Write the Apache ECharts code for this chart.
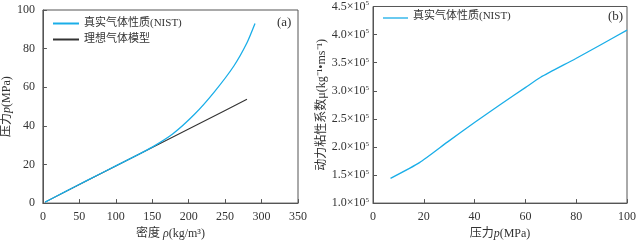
<!DOCTYPE html>
<html><head><meta charset="utf-8">
<script src="https://cdn.jsdelivr.net/npm/echarts@6/dist/echarts.min.js"></script>
<style>html,body{margin:0;padding:0;background:#fff}#c{width:639px;height:245px}</style>
</head><body><div id="c"></div>
<script>
// Panel (a): pressure vs density
const densityNist = [3, 30, 60, 100, 130, 150, 178, 208, 235, 262, 280, 291];
const pressureNist = [0.5, 5.8, 11.6, 19.3, 25.0, 29.0, 35.8, 46.0, 57.5, 71.0, 83.0, 93.0];
const densityIdeal = [3, 50, 100, 150, 200, 250, 280];
const pressureIdeal = [0.5, 9.6, 19.2, 28.8, 38.4, 48.0, 53.8];
// Panel (b): viscosity vs pressure
const pressureB = [6.9, 18.3, 29.4, 40.1, 50.3, 60.1, 66.0, 79.7, 89.7, 100];
const viscosityB = [144000, 172000, 209000, 244000, 276000, 306000, 324000, 357000, 382000, 408000];
const seriesNames = ['真实气体性质(NIST)', '理想气体模型'];

const FONT = '"Liberation Serif", "Noto Sans CJK SC", serif';
const AX = '#555';
const TXT = '#333';
const NIST_COLOR = '#1aaee8';
const IDEAL_COLOR = '#333';

function zip(a, b) { return a.map((v, i) => [v, b[i]]); }

const chart = echarts.init(document.getElementById('c'), null, {renderer: 'canvas'});
const nameStyle = {color: TXT, fontFamily: FONT, fontSize: 12,
  rich: {i: {fontStyle: 'italic', fontFamily: FONT, fontSize: 12, color: TXT}}};
const axisCommon = {
  axisLine: {show: true, lineStyle: {color: AX, width: 1}},
  axisTick: {show: true, inside: true, length: 4, lineStyle: {color: AX}},
  splitLine: {show: false},
  axisLabel: {color: TXT, fontFamily: FONT, fontSize: 12},
  nameTextStyle: nameStyle
};
chart.setOption({
  animation: false,
  textStyle: {fontFamily: FONT},
  grid: [
    {left: 42, top: 10, width: 256, height: 195, show: true, borderColor: AX, borderWidth: 1},
    {left: 373, top: 5, width: 255, height: 201, show: true, borderColor: AX, borderWidth: 1}
  ],
  legend: [
    {data: seriesNames, left: 48, top: 13, orient: 'vertical', itemWidth: 26, itemHeight: 2, itemGap: 5,
     icon: 'rect', textStyle: {fontFamily: FONT, fontSize: 11, color: TXT}},
  ],
  xAxis: [
    Object.assign({}, axisCommon, {gridIndex: 0, type: 'value', min: 0, max: 350, interval: 50,
      name: '密度 {i|ρ}(kg/m³)', nameLocation: 'middle', nameGap: 22}),
    Object.assign({}, axisCommon, {gridIndex: 1, type: 'value', min: 0, max: 100, interval: 20,
      name: '压力{i|p}(MPa)', nameLocation: 'middle', nameGap: 22})
  ],
  yAxis: [
    Object.assign({}, axisCommon, {gridIndex: 0, type: 'value', min: 0, max: 100, interval: 20,
      name: '压力{i|p}(MPa)', nameLocation: 'middle', nameGap: 28}),
    Object.assign({}, axisCommon, {gridIndex: 1, type: 'value', min: 100000, max: 450000, interval: 50000,
      name: '动力粘性系数μ(kg⁻¹•ms⁻¹)', nameLocation: 'middle', nameGap: 45,
      axisLabel: {color: TXT, fontFamily: FONT, fontSize: 12, margin: 4,
        formatter: v => '{a|' + (v / 1e5).toFixed(1) + '×10}{s|5}',
        rich: {a: {fontFamily: FONT, fontSize: 12, color: TXT}, s: {fontFamily: FONT, fontSize: 7, color: TXT, verticalAlign: 'top', padding: [0, 0, 6, 0]}}}})
  ],
  series: [
    {name: seriesNames[0], type: 'line', xAxisIndex: 0, yAxisIndex: 0, data: zip(densityNist, pressureNist),
     showSymbol: false, smooth: 0.2, lineStyle: {color: NIST_COLOR, width: 1.3}, itemStyle: {color: NIST_COLOR}, z: 3},
    {name: seriesNames[1], type: 'line', xAxisIndex: 0, yAxisIndex: 0, data: zip(densityIdeal, pressureIdeal),
     showSymbol: false, lineStyle: {color: IDEAL_COLOR, width: 1.1}, itemStyle: {color: IDEAL_COLOR}, z: 2},
    {name: 'b-nist', type: 'line', xAxisIndex: 1, yAxisIndex: 1, data: zip(pressureB, viscosityB),
     showSymbol: false, smooth: 0.2, lineStyle: {color: NIST_COLOR, width: 1.3}, itemStyle: {color: NIST_COLOR}}
  ],
  graphic: [
    {type: 'text', left: 277, top: 16, style: {text: '(a)', font: '13px ' + FONT, fill: TXT}},
    {type: 'text', left: 608, top: 10, style: {text: '(b)', font: '13px ' + FONT, fill: TXT}},
    {type: 'line', shape: {x1: 383, y1: 18, x2: 408, y2: 18}, style: {stroke: NIST_COLOR, lineWidth: 1.3}},
    {type: 'text', left: 413, top: 11, style: {text: seriesNames[0], font: '11px ' + FONT, fill: TXT}}
  ]
});
</script></body></html>
